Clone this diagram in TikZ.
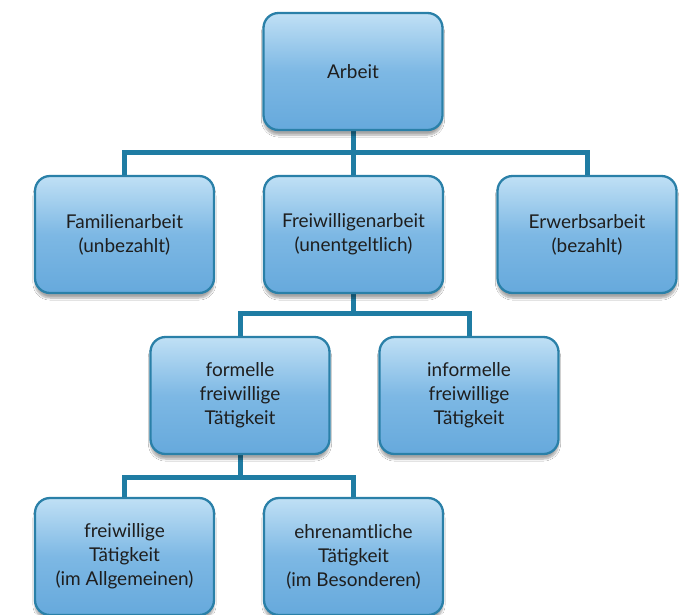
\documentclass[tikz,border=0pt]{standalone}
\usepackage{fontspec}
\setmainfont{Lato}
\usetikzlibrary{shadows.blur}
\definecolor{linec}{HTML}{1F7CA3}
\definecolor{borderc}{HTML}{2A80A8}
\definecolor{topc}{HTML}{C0E0F5}
\definecolor{midc}{HTML}{7DB8E4}
\definecolor{botc}{HTML}{66A9DC}
\definecolor{textc}{HTML}{1E1E1E}
\begin{document}
\begin{tikzpicture}[x=1pt,y=-1pt,
  box/.style={draw=borderc, line width=2.3pt, rounded corners=15pt,
    top color=topc, bottom color=botc, middle color=midc,
    minimum width=179pt, minimum height=117pt, inner sep=0pt,
    align=center, text=textc, font=\fontsize{19}{24}\selectfont,
    blur shadow={shadow xshift=0pt, shadow yshift=-5pt, shadow blur steps=8, shadow opacity=35}},
  conn/.style={draw=linec, line width=5pt}]
\useasboundingbox (0,0) rectangle (690,614);
\fill[white] (0,0) rectangle (690,614);
% connectors
\coordinate (h1l) at (124.5,152);
\coordinate (h1r) at (587,152);
\coordinate (h1m) at (353,152);
\coordinate (h2l) at (240,313);
\coordinate (h2r) at (469,313);
\coordinate (h2m) at (353.5,313);
\coordinate (h3l) at (124.5,477);
\coordinate (h3r) at (353.5,477);
\coordinate (h3m) at (240,477);
\draw[conn] (353,120) -- (h1m);
\draw[conn] (124.5,190) -- (h1l) -- (h1r) -- (587,190);
\draw[conn] (353.5,140) -- (353.5,190);
\draw[conn] (353.5,280) -- (h2m);
\draw[conn] (240,350) -- (h2l) -- (h2r) -- (469,350);
\draw[conn] (240,440) -- (h3m);
\draw[conn] (124.5,510) -- (h3l) -- (h3r) -- (353.5,510);
% boxes
\node[box] (arbeit) at (353,71.5) {Arbeit};
\node[box] (fam) at (124.5,234.5) {Familienarbeit\\(unbezahlt)};
\node[box] (frei) at (353.5,234.5) {Freiwilligenarbeit\\(unentgeltlich)};
\node[box] (erw) at (587,234.5) {Erwerbsarbeit\\(bezahlt)};
\node[box] (form) at (240,395.5) {formelle\\freiwillige\\Tätigkeit};
\node[box] (inf) at (469,395.5) {informelle\\freiwillige\\Tätigkeit};
\node[box] (allg) at (124.5,556.5) {freiwillige\\Tätigkeit\\(im Allgemeinen)};
\node[box] (bes) at (353.5,556.5) {ehrenamtliche\\Tätigkeit\\(im Besonderen)};
\end{tikzpicture}
\end{document}
